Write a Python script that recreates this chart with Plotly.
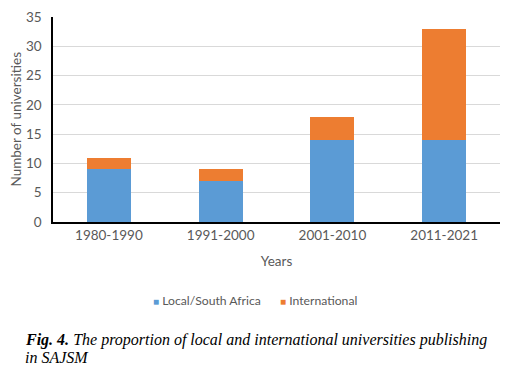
import plotly.graph_objects as go

categories = ["1980-1990", "1991-2000", "2001-2010", "2011-2021"]
local_sa = [9, 7, 14, 14]
international = [2, 2, 4, 19]
series_names = ["Local/South Africa", "International"]
series_colors = ["#5B9BD5", "#ED7D31"]
y_ticks = [0, 5, 10, 15, 20, 25, 30, 35]
caption_lines = [
    "<b>Fig. 4.</b> The proportion of local and international universities publishing",
    "in SAJSM",
]

FONT = "Lato, 'Open Sans', sans-serif"
GRAY = "#595959"

fig = go.Figure()
for vals, name, col in zip([local_sa, international], series_names, series_colors):
    fig.add_trace(go.Bar(x=categories, y=vals, name=name, showlegend=False,
                         marker=dict(color=col, line=dict(width=0))))

# page body has an 8px margin, so the figure is sized to fill the rest of the window
fig.update_layout(
    width=503, height=370,
    barmode="stack", bargap=0.605,
    plot_bgcolor="white", paper_bgcolor="white",
    margin=dict(l=45, r=11, t=9, b=156, autoexpand=False),
    font=dict(family=FONT, size=13, color=GRAY),
    showlegend=False,
    xaxis=dict(showline=True, linecolor="black", linewidth=1.5, ticks="", automargin=False,
               title=dict(text="Years", font=dict(size=13.5, color=GRAY), standoff=15),
               tickfont=dict(size=13.5, color=GRAY)),
    yaxis=dict(range=[0, 35], tickvals=y_ticks, showgrid=True, gridcolor="#D9D9D9",
               gridwidth=1, showline=True, linecolor="black", linewidth=1.5,
               zeroline=False, ticks="", automargin=False, ticklabelstandoff=7,
               tickfont=dict(size=13.5, color=GRAY)),
)

# y-axis title
fig.add_annotation(text="Number of universities", xref="paper", yref="paper",
                   x=-0.085, y=0.5, xanchor="center", yanchor="middle", textangle=-90,
                   showarrow=False, font=dict(size=13.5, color=GRAY))

# legend with small square swatches
legend_x = [0.2192, 0.5034]
for name, col, lx in zip(series_names, series_colors, legend_x):
    fig.add_annotation(
        text=f"<span style='color:{col};font-size:10px'>■</span> {name}",
        xref="paper", yref="paper", x=lx, y=-0.3805, xanchor="left", yanchor="middle",
        showarrow=False, font=dict(size=12.2, color=GRAY))

# caption
for line, cy in zip(caption_lines, [-0.5756, -0.6634]):
    fig.add_annotation(
        text=f"<i>{line}</i>",
        xref="paper", yref="paper", x=-0.066, y=cy, xanchor="left", yanchor="middle",
        align="left", showarrow=False,
        font=dict(family="'Liberation Serif', 'DejaVu Serif', serif", size=16, color="black"),
    )

fig.write_html("out.html")
